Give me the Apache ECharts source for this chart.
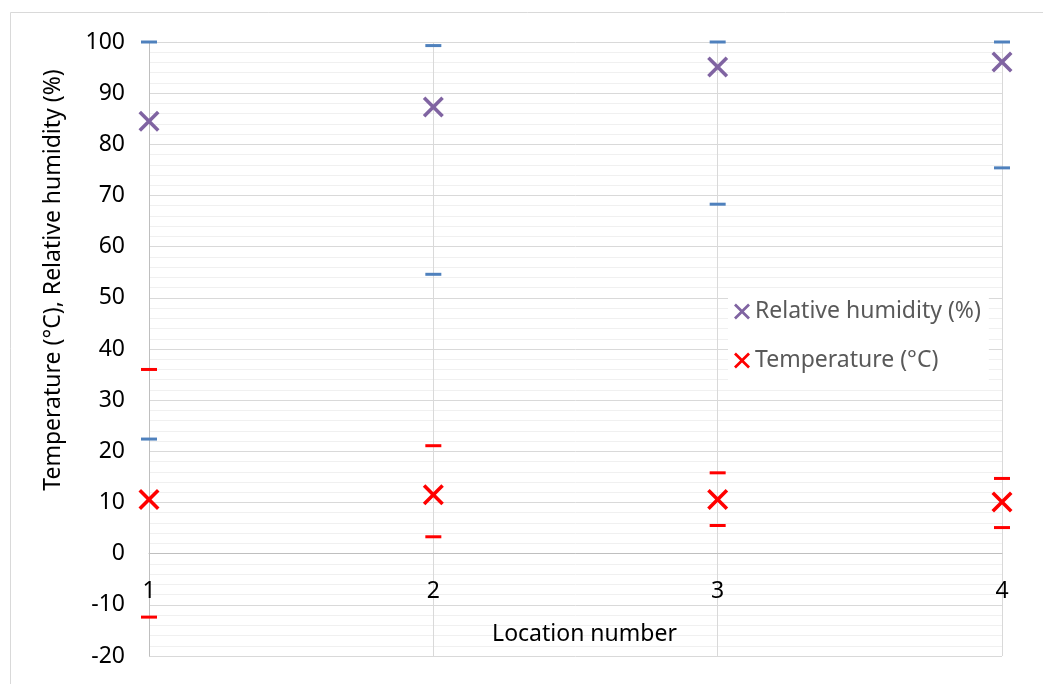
<!DOCTYPE html>
<html>
<head>
<meta charset="utf-8">
<script src="https://cdn.jsdelivr.net/npm/echarts@6/dist/echarts.min.js"></script>
<style>
  html, body { margin: 0; padding: 0; background: #fff; }
  #chart { width: 1043px; height: 684px; }
</style>
</head>
<body>
<div id="chart"></div>
<script>
// Location numbers along the x axis
const locations = [1, 2, 3, 4];

// Relative humidity (%): mean with min / max at each location
const humidity = [84.5, 87.3, 95.1, 96.1];
const humidityMax = [100, 99.3, 100, 100];
const humidityMin = [22.4, 54.6, 68.3, 75.4];

// Temperature (°C): mean with min / max at each location
const temperature = [10.6, 11.5, 10.6, 10.1];
const temperatureMax = [36.0, 21.1, 15.8, 14.7];
const temperatureMin = [-12.4, 3.3, 5.5, 5.1];

// Axis ranges
const yMin = -20, yMax = 100, yStep = 10;
const xMin = 1, xMax = 4, xStep = 1;

const FONT = 'Noto Sans';
const PURPLE = '#8064A2';
const RED = '#FF0000';
const BLUE = '#4F81BD';

// Plot area margins
const GRID = { left: 149, right: 41, top: 42, bottom: 28 };
const plotHeight = 684 - GRID.top - GRID.bottom;
// The x axis crosses the value axis at y = 0
const xAxisOffset = -plotHeight * (0 - yMin) / (yMax - yMin);

// Thick "x" marker
const CROSS = 'path://M1.2,0 L5,3.8 L8.8,0 L10,1.2 L6.2,5 L10,8.8 L8.8,10 L5,6.2 L1.2,10 L0,8.8 L3.8,5 L0,1.2 Z';

const pairs = (xs, ys) => xs.map((x, i) => [x, ys[i]]);

function rangeTicks(name, ys, color) {
  return {
    name: name,
    type: 'scatter',
    symbol: 'rect',
    symbolSize: [16, 3],
    itemStyle: { color: color, opacity: 1 },
    data: pairs(locations, ys),
    silent: true,
    z: 3
  };
}

const chart = echarts.init(document.getElementById('chart'));
chart.setOption({
  animation: false,
  backgroundColor: '#fff',
  textStyle: { fontFamily: FONT },
  graphic: [{
    type: 'rect',
    shape: { x: 10.5, y: 12.5, width: 1100, height: 700 },
    style: { fill: null, stroke: '#d9d9d9', lineWidth: 1 },
    silent: true,
    z: -1
  }],
  grid: Object.assign({ containLabel: false, outerBoundsMode: 'none' }, GRID),
  legend: {
    orient: 'vertical',
    left: 728,
    top: 294,
    padding: [6, 8, 8, 6],
    backgroundColor: '#fff',
    itemWidth: 16,
    itemHeight: 16,
    itemGap: 26,
    textStyle: { fontFamily: FONT, fontSize: 23, color: '#595959' },
    data: [
      { name: 'Relative humidity (%)', icon: CROSS },
      { name: 'Temperature (°C)', icon: CROSS }
    ]
  },
  xAxis: {
    type: 'value',
    min: xMin,
    max: xMax,
    interval: xStep,
    offset: xAxisOffset,
    name: 'Location number',
    nameLocation: 'middle',
    nameGap: 69,
    nameTextStyle: { fontFamily: FONT, fontSize: 23, color: '#000', padding: [0, 0, 0, 18] },
    axisLine: { show: true, onZero: false, lineStyle: { color: '#bfbfbf', width: 1 } },
    axisTick: { show: false },
    axisLabel: { fontFamily: FONT, fontSize: 23, color: '#000', margin: 26 },
    splitLine: { show: true, lineStyle: { color: '#d9d9d9', width: 1 } }
  },
  yAxis: {
    type: 'value',
    min: yMin,
    max: yMax,
    interval: yStep,
    name: 'Temperature (°C), Relative humidity (%)',
    nameLocation: 'middle',
    nameGap: 84,
    nameTextStyle: { fontFamily: FONT, fontSize: 23, color: '#000', padding: [0, 0, 0, 138] },
    axisLine: { show: true, lineStyle: { color: '#bfbfbf', width: 1 } },
    axisTick: { show: false },
    axisLabel: { fontFamily: FONT, fontSize: 23, color: '#000', margin: 24 },
    splitLine: { show: true, lineStyle: { color: '#d9d9d9', width: 1 } },
    minorTick: { show: false, splitNumber: 5 },
    minorSplitLine: { show: true, lineStyle: { color: '#f0f0f0', width: 1 } }
  },
  series: [
    rangeTicks('Humidity max', humidityMax, BLUE),
    rangeTicks('Humidity min', humidityMin, BLUE),
    rangeTicks('Temperature max', temperatureMax, RED),
    rangeTicks('Temperature min', temperatureMin, RED),
    {
      name: 'Relative humidity (%)',
      type: 'scatter',
      symbol: CROSS,
      symbolSize: 21,
      itemStyle: { color: PURPLE, opacity: 1 },
      data: pairs(locations, humidity),
      z: 4
    },
    {
      name: 'Temperature (°C)',
      type: 'scatter',
      symbol: CROSS,
      symbolSize: 21,
      itemStyle: { color: RED, opacity: 1 },
      data: pairs(locations, temperature),
      z: 4
    }
  ]
});
</script>
</body>
</html>
